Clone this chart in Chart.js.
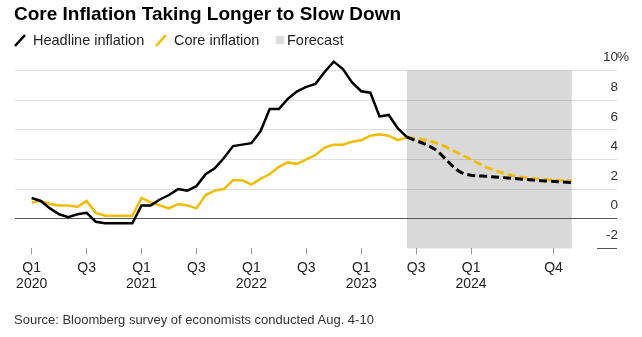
<!DOCTYPE html>
<html lang="en">
<head>
<meta charset="UTF-8">
<title>Core Inflation Taking Longer to Slow Down</title>
<script src="https://cdn.jsdelivr.net/npm/chart.js"></script>
<style>
    body { margin: 0; background: #fff; font-family: "Liberation Sans", Arial, sans-serif; }
    .wrap { position: relative; width: 642px; height: 337px; overflow: hidden; }
    canvas { position: absolute; left: 0; top: 0; }
    .title { position: absolute; left: 14px; top: 4px; font-size: 19px; line-height: 19px; font-weight: bold; color: #000; white-space: nowrap; }
    .legend-text { position: absolute; top: 33px; font-size: 14.5px; line-height: 14.5px; color: #222; white-space: nowrap; }
    .legend-icon { position: absolute; top: 34px; }
    .legend-box { position: absolute; left: 276px; top: 36px; width: 8px; height: 8px; background: #d9d9d9; }
    .source { position: absolute; left: 14px; top: 313px; font-size: 13px; line-height: 13px; color: #333; white-space: nowrap; }
</style>
</head>
<body>
<div class="wrap">
    <canvas id="inflationChart" width="642" height="337"></canvas>
    <div class="title">Core Inflation Taking Longer to Slow Down</div>
    <svg class="legend-icon" style="left:14px" width="12" height="13"><line x1="1" y1="12" x2="11" y2="1" stroke="#000" stroke-width="2.6"/></svg>
    <div class="legend-text" style="left:33px">Headline inflation</div>
    <svg class="legend-icon" style="left:155px" width="12" height="13"><line x1="1" y1="12" x2="11" y2="1" stroke="#f4bb00" stroke-width="2.6"/></svg>
    <div class="legend-text" style="left:174px">Core inflation</div>
    <div class="legend-box"></div>
    <div class="legend-text" style="left:287px">Forecast</div>
    <div class="source">Source: Bloomberg survey of economists conducted Aug. 4-10</div>
</div>

<script>
    // Monthly readings, Jan 2020 (month 0) to Jun 2023 (month 41), y/y %
    const headline = [
        1.4, 1.2, 0.7, 0.3, 0.1, 0.3, 0.4, -0.2, -0.3, -0.3, -0.3, -0.3,
        0.9, 0.9, 1.3, 1.6, 2.0, 1.9, 2.2, 3.0, 3.4, 4.1, 4.9, 5.0,
        5.1, 5.9, 7.4, 7.4, 8.1, 8.6, 8.9, 9.1, 9.9, 10.6, 10.1, 9.2,
        8.6, 8.5, 6.9, 7.0, 6.1, 5.5
    ];
    const core = [
        1.1, 1.2, 1.0, 0.9, 0.9, 0.8, 1.2, 0.4, 0.2, 0.2, 0.2, 0.2,
        1.4, 1.1, 0.9, 0.7, 1.0, 0.9, 0.7, 1.6, 1.9, 2.0, 2.6, 2.6,
        2.3, 2.7, 3.0, 3.5, 3.8, 3.7, 4.0, 4.3, 4.8, 5.0, 5.0, 5.2,
        5.3, 5.6, 5.7, 5.6, 5.3, 5.5
    ];

    // Survey forecasts at quarter ends, 2Q 2023 to 4Q 2024
    const forecastMonths = [41, 44, 47, 50, 53, 56, 59];
    const headlineForecast = [5.5, 4.7, 3.1, 2.85, 2.7, 2.55, 2.45];
    const coreForecast = [5.5, 5.15, 4.3, 3.4, 2.85, 2.65, 2.55];

    // Axis ticks
    const xTickMonths = [0, 6, 12, 18, 24, 30, 36, 42, 48, 57];
    const xTickLabels = [['Q1', '2020'], 'Q3', ['Q1', '2021'], 'Q3', ['Q1', '2022'], 'Q3',
                         ['Q1', '2023'], 'Q3', ['Q1', '2024'], 'Q4'];
    const yTicks = [-2, 0, 2, 4, 6, 8, 10];

    const BLACK = '#000000';
    const GOLD = '#f4bb00';
    const Y_LABEL_OFFSET = -13;

    const toPoints = (months, values) => values.map((v, i) => ({ x: months[i], y: v }));
    const actualMonths = headline.map((_, i) => i);

    // grey band behind the forecast period
    const forecastShade = {
        id: 'forecastShade',
        beforeDraw(chart) {
            const { ctx, scales: { x, y } } = chart;
            const left = x.getPixelForValue(forecastMonths[0]);
            const right = x.getPixelForValue(forecastMonths[forecastMonths.length - 1]);
            const top = y.getPixelForValue(yTicks[yTicks.length - 1]);
            const bottom = y.getPixelForValue(yTicks[0]);
            ctx.save();
            ctx.fillStyle = '#d9d9d9';
            ctx.fillRect(left, top, right - left, bottom - top);
            ctx.restore();
        }
    };

    // short rule under "-2" and the hanging % after the top label
    const axisExtras = {
        id: 'axisExtras',
        afterDraw(chart) {
            const { ctx, chartArea, scales: { y } } = chart;
            const yb = Math.round(y.getPixelForValue(-2)) + 0.5;
            ctx.save();
            ctx.strokeStyle = '#555';
            ctx.lineWidth = 1;
            ctx.beginPath();
            ctx.moveTo(chartArea.right - 20, yb);
            ctx.lineTo(chartArea.right, yb);
            ctx.stroke();

            ctx.font = '13.5px "Liberation Sans", Arial, sans-serif';
            ctx.fillStyle = '#333';
            ctx.textAlign = 'left';
            ctx.textBaseline = 'middle';
            ctx.fillText('%', chartArea.right, y.getPixelForValue(10) + Y_LABEL_OFFSET);
            ctx.restore();
        }
    };

    const ctx = document.getElementById('inflationChart').getContext('2d');
    new Chart(ctx, {
        type: 'line',
        data: {
            datasets: [
                {
                    label: 'Headline inflation',
                    data: toPoints(actualMonths, headline),
                    borderColor: BLACK,
                    borderWidth: 2.5,
                    pointRadius: 0,
                    tension: 0,
                    clip: false
                },
                {
                    label: 'Headline forecast',
                    data: toPoints(forecastMonths, headlineForecast),
                    borderColor: BLACK,
                    borderWidth: 3,
                    borderDash: [8, 4],
                    pointRadius: 0,
                    cubicInterpolationMode: 'monotone',
                    clip: false
                },
                {
                    label: 'Core inflation',
                    data: toPoints(actualMonths, core),
                    borderColor: GOLD,
                    borderWidth: 2.5,
                    pointRadius: 0,
                    tension: 0,
                    clip: false
                },
                {
                    label: 'Core forecast',
                    data: toPoints(forecastMonths, coreForecast),
                    borderColor: GOLD,
                    borderWidth: 3,
                    borderDash: [8, 4],
                    pointRadius: 0,
                    cubicInterpolationMode: 'monotone',
                    clip: false
                }
            ]
        },
        options: {
            responsive: false,
            animation: false,
            devicePixelRatio: 1,
            layout: { padding: { left: 15, right: 23, top: 70.5, bottom: 39 } },
            plugins: {
                legend: { display: false },
                tooltip: { enabled: false }
            },
            scales: {
                x: {
                    type: 'linear',
                    min: -1.82,
                    max: 63.94,
                    afterBuildTicks: (axis) => { axis.ticks = xTickMonths.map(v => ({ value: v })); },
                    border: { display: false },
                    grid: {
                        drawOnChartArea: false,
                        drawTicks: true,
                        tickLength: 6,
                        color: '#999'
                    },
                    ticks: {
                        autoSkip: false,
                        maxRotation: 0,
                        padding: 5,
                        color: '#222',
                        font: { family: '"Liberation Sans", Arial, sans-serif', size: 14, lineHeight: 1.2 },
                        callback: (value) => xTickLabels[xTickMonths.indexOf(value)]
                    }
                },
                y: {
                    position: 'right',
                    min: -2,
                    max: 10,
                    afterBuildTicks: (axis) => { axis.ticks = yTicks.map(v => ({ value: v })); },
                    border: { display: false },
                    grid: {
                        drawTicks: false,
                        lineWidth: 1,
                        color: (c) => {
                            if (c.tick.value === 0) return '#555';
                            if (c.tick.value === -2) return 'rgba(0,0,0,0)';
                            return 'rgba(0,0,0,0.12)';
                        }
                    },
                    ticks: {
                        mirror: true,
                        padding: 1,
                        labelOffset: Y_LABEL_OFFSET,
                        color: '#333',
                        font: { family: '"Liberation Sans", Arial, sans-serif', size: 13.5 },
                        callback: (value) => String(value)
                    }
                }
            }
        },
        plugins: [forecastShade, axisExtras]
    });
</script>
</body>
</html>
